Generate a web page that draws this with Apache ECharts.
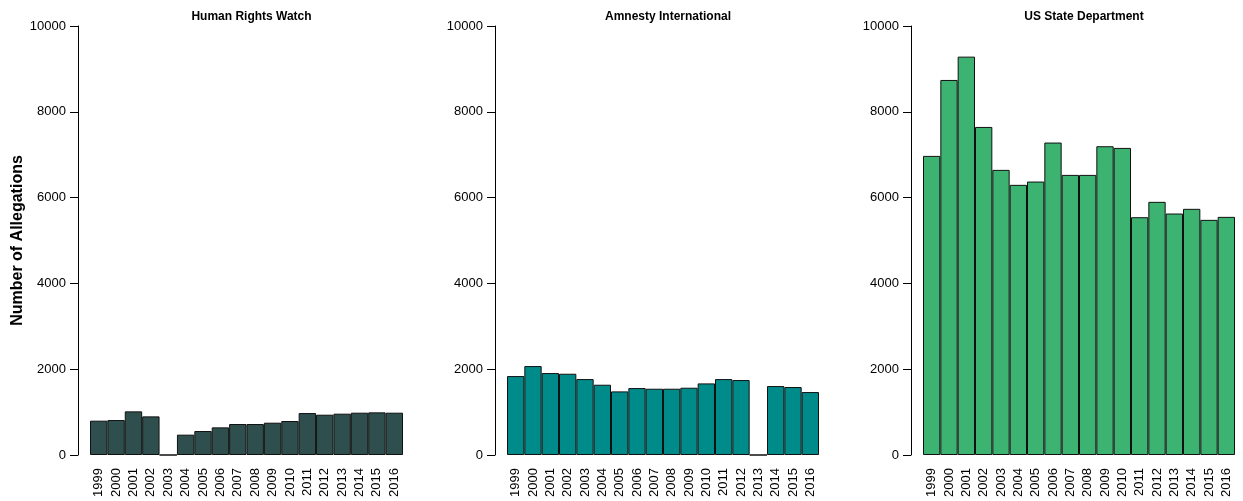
<!DOCTYPE html>
<html>
<head>
<meta charset="utf-8">
<script src="https://cdn.jsdelivr.net/npm/echarts@6/dist/echarts.min.js"></script>
<style>html,body{margin:0;padding:0;background:#fff}#c{width:1243px;height:501px}</style>
</head>
<body>
<div id="c"></div>
<script>
const years = ['1999','2000','2001','2002','2003','2004','2005','2006','2007','2008','2009','2010','2011','2012','2013','2014','2015','2016'];
const panelTitles = ['Human Rights Watch','Amnesty International','US State Department'];
const hrw = [800, 815, 1017, 900, 0, 474, 559, 644, 722, 722, 753, 792, 978, 939, 963, 986, 994, 986];
const amnesty = [1840, 2073, 1910, 1894, 1770, 1638, 1483, 1560, 1545, 1545, 1568, 1669, 1770, 1747, 0, 1607, 1584, 1467];
const usState = [6972, 8742, 9286, 7647, 6646, 6297, 6374, 7283, 6529, 6529, 7197, 7158, 5543, 5901, 5629, 5738, 5481, 5551];
const yTicks = { min: 0, max: 10000, interval: 2000 };
const yName = 'Number of Allegations';

const seriesData = [hrw, amnesty, usState];
const colors = ['#2F4F4F', '#008B8B', '#3CB371'];
const lefts = [90, 507, 923];
const widths = [313, 312, 312];
const font = 'Liberation Sans, Arial, Helvetica, sans-serif';

const chart = echarts.init(document.getElementById('c'));
chart.setOption({
  animation: false,
  backgroundColor: '#fff',
  title: panelTitles.map((t, i) => ({
    text: t,
    left: lefts[i] + widths[i] / 2,
    textAlign: 'center',
    top: 6,
    textStyle: { fontFamily: font, fontSize: 12, fontWeight: 'bold', color: '#000' }
  })),
  grid: lefts.map((l, i) => ({ left: l, width: widths[i], top: 26, bottom: 46 })),
  xAxis: lefts.map((l, i) => ({
    type: 'category', gridIndex: i, data: years,
    axisLine: { show: false }, axisTick: { show: false },
    axisLabel: { rotate: 90, fontSize: 13, margin: 13, color: '#000', fontFamily: font, interval: 0 }
  })),
  yAxis: lefts.map((l, i) => ({
    type: 'value', gridIndex: i, min: yTicks.min, max: yTicks.max, interval: yTicks.interval,
    offset: 12,
    name: i === 0 ? yName : '',
    nameLocation: 'middle', nameGap: 50,
    nameTextStyle: { fontFamily: font, fontSize: 16, fontWeight: 'bold', color: '#000' },
    axisLine: { show: true, lineStyle: { color: '#000', width: 1 } },
    axisTick: { show: true, length: 8, lineStyle: { color: '#000' } },
    splitLine: { show: false },
    axisLabel: { fontSize: 13, color: '#000', margin: 12, fontFamily: font, formatter: v => String(v) }
  })),
  series: seriesData.map((d, i) => ({
    type: 'bar', xAxisIndex: i, yAxisIndex: i, data: d,
    barWidth: '100%',
    itemStyle: { color: colors[i], borderColor: '#111', borderWidth: 1 }
  }))
});
</script>
</body>
</html>
